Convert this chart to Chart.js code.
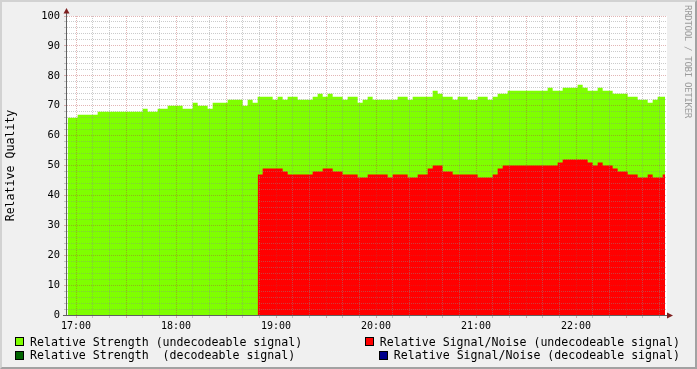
<!DOCTYPE html>
<html>
<head>
<meta charset="utf-8">
<title>Relative Quality</title>
<script src="https://cdn.jsdelivr.net/npm/chart.js@4.4.0/dist/chart.umd.min.js"></script>
<style>
  html, body { margin: 0; padding: 0; background: #f0f0f0; }
  #wrap { position: relative; width: 697px; height: 369px; overflow: hidden; font-family: "DejaVu Sans Mono", monospace; }
  #chart { position: absolute; left: 0; top: 0; }
  #frame { position: absolute; left: 0; top: 0; width: 697px; height: 369px; box-sizing: border-box;
           border: 2px solid; border-color: #d2d2d2 #a2a2a2 #a2a2a2 #d2d2d2; pointer-events: none; }
  .item { position: absolute; height: 14px; display: flex; align-items: center; font-size: 11.6px; white-space: pre; color: #000; }
  .sw { width: 7px; height: 7px; border: 1px solid #000; margin-right: 6px; }
  #mark { position: absolute; left: 683px; top: 5px; writing-mode: vertical-rl; font-size: 9.2px; letter-spacing: -0.4px; color: #9c9c9c; white-space: pre; }
</style>
</head>
<body>
<div id="wrap">
  <canvas id="chart" width="697" height="369"></canvas>
  <div id="legend"></div>
  <div id="mark">RRDTOOL / TOBI OETIKER</div>
  <div id="frame"></div>
</div>
<script>
"use strict";

// samples every 3 minutes, minute 0 = 17:00
const startMinute = -5;
const stepMinutes = 3;
const endMinute = 353.4;

const strengthUndecodeable = [
  66, 66, 67, 67, 67, 67, 68, 68, 68, 68,
  68, 68, 68, 68, 68, 69, 68, 68, 69, 69,
  70, 70, 70, 69, 69, 71, 70, 70, 69, 71,
  71, 71, 72, 72, 72, 70, 72, 71, 73, 73,
  73, 72, 73, 72, 73, 73, 72, 72, 72, 73,
  74, 73, 74, 73, 73, 72, 73, 73, 71, 72,
  73, 72, 72, 72, 72, 72, 73, 73, 72, 73,
  73, 73, 73, 75, 74, 73, 73, 72, 73, 73,
  72, 72, 73, 73, 72, 73, 74, 74, 75, 75,
  75, 75, 75, 75, 75, 75, 76, 75, 75, 76,
  76, 76, 77, 76, 75, 75, 76, 75, 75, 74,
  74, 74, 73, 73, 72, 72, 71, 72, 73, 73
];

const snrUndecodeable = [
  null, null, null, null, null, null, null, null, null, null,
  null, null, null, null, null, null, null, null, null, null,
  null, null, null, null, null, null, null, null, null, null,
  null, null, null, null, null, null, null, null, 47, 49,
  49, 49, 49, 48, 47, 47, 47, 47, 47, 48,
  48, 49, 49, 48, 48, 47, 47, 47, 46, 46,
  47, 47, 47, 47, 46, 47, 47, 47, 46, 46,
  47, 47, 49, 50, 50, 48, 48, 47, 47, 47,
  47, 47, 46, 46, 46, 47, 49, 50, 50, 50,
  50, 50, 50, 50, 50, 50, 50, 50, 51, 52,
  52, 52, 52, 52, 51, 50, 51, 50, 50, 49,
  48, 48, 47, 47, 46, 46, 47, 46, 46, 47
];

const strengthDecodeable = [];
const snrDecodeable = [];

const seriesNames = [
  "Relative Strength (undecodeable signal)",
  "Relative Signal/Noise (undecodeable signal)",
  "Relative Strength  (decodeable signal)",
  "Relative Signal/Noise (decodeable signal)"
];
const seriesColors = ["#7fff00", "#ff0000", "#006400", "#00008b"];

const hourMinutes = [0, 60, 120, 180, 240, 300];
const hourLabels = ["17:00", "18:00", "19:00", "20:00", "21:00", "22:00"];
const yLabelValues = [0, 10, 20, 30, 40, 50, 60, 70, 80, 90, 100];

const xMin = -5.4;
const xMax = 354.6;

const FONT = "DejaVu Sans Mono";
const minorGrid = "rgba(140,140,140,0.45)";
const majorGrid = "rgba(180,60,60,0.38)";

function toPoints(values) {
  if (values.length === 0) return [];
  let pts = values.map((v, i) => ({ x: startMinute + i * stepMinutes, y: v }));
  pts.push({ x: endMinute, y: values[values.length - 1] });
  return pts;
}

function makeSet(idx, values, order) {
  return {
    label: seriesNames[idx],
    data: toPoints(values),
    order: order,
    stepped: true,
    fill: "origin",
    backgroundColor: seriesColors[idx],
    borderColor: seriesColors[idx],
    borderWidth: 0,
    pointRadius: 0,
    spanGaps: false
  };
}

// x grid every 10 min, y grid every 2 units
let xGrid = [];
for (let m = 0; m <= 350; m += 10) xGrid.push(m);
let yGrid = [];
for (let v = 0; v <= 100; v += 2) yGrid.push(v);

const plotFrame = {
  id: "plotFrame",
  beforeDraw(chart) {
    const { ctx, chartArea: a } = chart;
    ctx.save();
    ctx.fillStyle = "#ffffff";
    ctx.fillRect(a.left, a.top, a.right - a.left, a.bottom - a.top);
    ctx.restore();
  },
  afterDraw(chart) {
    const { ctx, chartArea: a } = chart;
    ctx.save();
    ctx.strokeStyle = "#606060";
    ctx.lineWidth = 1;
    ctx.beginPath();
    ctx.moveTo(a.left - 0.5, a.bottom + 1);
    ctx.lineTo(a.left - 0.5, a.top - 3);
    ctx.moveTo(a.left - 4, a.bottom + 0.5);
    ctx.lineTo(a.right, a.bottom + 0.5);
    ctx.stroke();
    ctx.fillStyle = "#7f1f1f";
    ctx.beginPath();
    ctx.moveTo(a.left - 3.5, a.top - 2.5);
    ctx.lineTo(a.left + 2.5, a.top - 2.5);
    ctx.lineTo(a.left - 0.5, a.top - 8);
    ctx.closePath();
    ctx.fill();
    ctx.beginPath();
    ctx.moveTo(a.right, a.bottom - 2.5);
    ctx.lineTo(a.right, a.bottom + 3.5);
    ctx.lineTo(a.right + 6, a.bottom + 0.5);
    ctx.closePath();
    ctx.fill();
    ctx.restore();
  }
};

new Chart(document.getElementById("chart"), {
  type: "line",
  data: {
    datasets: [
      makeSet(0, strengthUndecodeable, 4),
      makeSet(1, snrUndecodeable, 3),
      makeSet(2, strengthDecodeable, 2),
      makeSet(3, snrDecodeable, 1)
    ]
  },
  options: {
    responsive: false,
    animation: false,
    devicePixelRatio: 1,
    layout: { padding: { left: 0, top: 16, right: 30, bottom: 34 } },
    plugins: { legend: { display: false }, tooltip: { enabled: false } },
    scales: {
      x: {
        type: "linear",
        min: xMin,
        max: xMax,
        afterBuildTicks: (s) => { s.ticks = xGrid.map(v => ({ value: v })); },
        afterFit: (s) => { s.height = 20; },
        ticks: {
          autoSkip: false,
          maxRotation: 0,
          padding: 2,
          color: "#000",
          font: { family: FONT, size: 10 },
          callback: (v) => {
            const i = hourMinutes.indexOf(v);
            return i >= 0 ? hourLabels[i] : "";
          }
        },
        grid: {
          z: 1,
          tickLength: 3,
          lineWidth: 1,
          color: (c) => (c.tick && c.tick.value % 30 === 0) ? majorGrid : minorGrid
        },
        border: { display: false, dash: [1, 1] }
      },
      y: {
        min: 0,
        max: 100,
        afterBuildTicks: (s) => { s.ticks = yGrid.map(v => ({ value: v })); },
        afterFit: (s) => { s.width = 67; },
        ticks: {
          autoSkip: false,
          padding: 4,
          color: "#000",
          font: { family: FONT, size: 10.4 },
          callback: (v) => yLabelValues.includes(v) ? String(v) : ""
        },
        grid: {
          z: 1,
          tickLength: 3,
          lineWidth: 1,
          color: (c) => {
            if (!c.tick || c.tick.value === 0) return "rgba(0,0,0,0)";
            return c.tick.value % 10 === 0 ? majorGrid : minorGrid;
          }
        },
        border: { display: false, dash: [1, 1] },
        title: {
          display: true,
          text: "Relative Quality",
          color: "#000",
          font: { family: FONT, size: 11.6 },
          padding: { top: 4, bottom: 0 }
        }
      }
    }
  },
  plugins: [plotFrame]
});

// legend: left column, right column (right aligned)
const legendSpots = [
  { left: 15, top: 334.5 },
  { right: 17, top: 334.5 },
  { left: 15, top: 348 },
  { right: 17, top: 348 }
];
const legendEl = document.getElementById("legend");
seriesNames.forEach((name, i) => {
  const item = document.createElement("div");
  item.className = "item";
  const spot = legendSpots[i];
  item.style.top = spot.top + "px";
  if (spot.left !== undefined) item.style.left = spot.left + "px";
  else item.style.right = spot.right + "px";
  const sw = document.createElement("span");
  sw.className = "sw";
  sw.style.background = seriesColors[i];
  const txt = document.createElement("span");
  txt.textContent = name;
  item.appendChild(sw);
  item.appendChild(txt);
  legendEl.appendChild(item);
});
</script>
</body>
</html>
